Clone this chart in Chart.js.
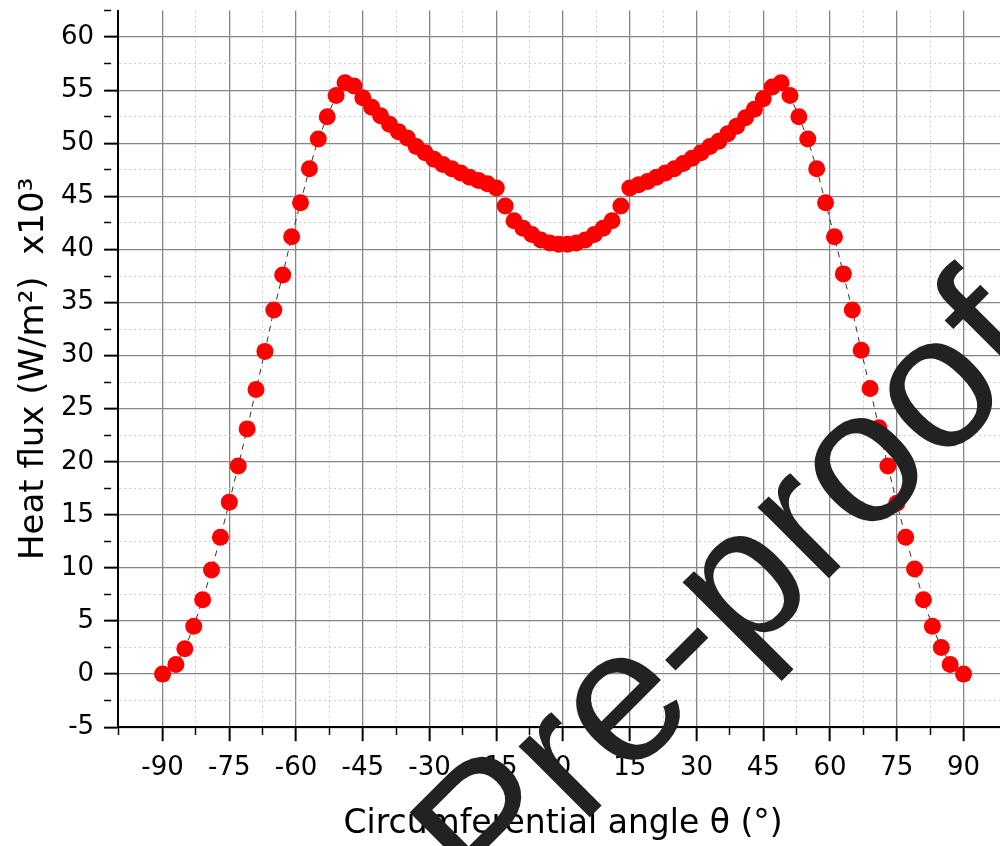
<!DOCTYPE html>
<html>
<head>
<meta charset="utf-8">
<script src="https://cdn.jsdelivr.net/npm/chart.js@4.4.1/dist/chart.umd.min.js"></script>
<style>
  html, body { margin: 0; padding: 0; background: #fff; overflow: hidden; }
  #wrap { width: 1019px; height: 862px; margin-top: -15px; }
</style>
</head>
<body>
<div id="wrap"><canvas id="flux" width="1019" height="862"></canvas></div>
<script>
// ── datos ───────────────────────────────
const angles = [
  -90, -87, -85, -83, -81, -79, -77, -75, -73, -71, -69, -67, -65, -63, -61, -59,
  -57, -55, -53, -51, -49, -47, -45, -43, -41, -39, -37, -35, -33, -31, -29, -27,
  -25, -23, -21, -19, -17, -15, -13, -11, -9, -7, -5, -3, -1,
  1, 3, 5, 7, 9, 11, 13, 15, 17, 19, 21, 23, 25, 27, 29, 31,
  33, 35, 37, 39, 41, 43, 45, 47, 49, 51, 53, 55, 57, 59, 61, 63,
  65, 67, 69, 71, 73, 75, 77, 79, 81, 83, 85, 87, 90
];
const heatFlux = [
  0.0, 0.9, 2.4, 4.5, 7.0, 9.8, 12.9, 16.2, 19.6, 23.1, 26.8, 30.4, 34.3, 37.6, 41.2, 44.4,
  47.6, 50.4, 52.5, 54.5, 55.7, 55.4, 54.3, 53.4, 52.6, 51.8, 51.1, 50.5, 49.7, 49.1, 48.5, 48.0,
  47.6, 47.2, 46.8, 46.5, 46.2, 45.8, 44.1, 42.7, 42.0, 41.4, 40.9, 40.6, 40.5,
  40.5, 40.6, 40.9, 41.4, 42.0, 42.7, 44.1, 45.8, 46.1, 46.4, 46.8, 47.2, 47.6, 48.1, 48.6, 49.1,
  49.7, 50.2, 50.9, 51.6, 52.4, 53.2, 54.2, 55.3, 55.7, 54.5, 52.5, 50.4, 47.6, 44.4, 41.2, 37.7,
  34.3, 30.5, 26.9, 23.2, 19.6, 16.1, 12.9, 9.9, 7.0, 4.5, 2.5, 0.9, 0.0
];

const xMin = -100, xMax = 100, xStep = 7.5, xMajor = 15;
const yMin = -5, yMax = 62.5, yStep = 2.5, yMajor = 5;

const xTitle = 'Circumferential angle θ (°)';
const yTitle = 'Heat flux (W/m²)  x10³';
const watermark = 'Pre-proof';

const esMayor = (v, paso) => Math.abs(v / paso - Math.round(v / paso)) < 1e-6;

// ── marca de agua ───────────────────────
const marcaAgua = {
  id: 'marcaAgua',
  afterDraw(chart) {
    const c = chart.ctx;
    c.save();
    c.translate(491, 931);
    c.rotate(-Math.PI / 4);
    c.font = '190px "Liberation Sans"';
    c.fillStyle = '#222';
    c.textBaseline = 'alphabetic';
    c.fillText(watermark, 0, 0);
    c.restore();
  }
};

function ejeOpts(mayor, maxVal) {
  const v = c => (c.tick ? c.tick.value : null);
  const mayorEn = c => v(c) !== null && esMayor(v(c), mayor);
  return {
    grid: {
      color: c => {
        const t = v(c);
        if (t === null) return '#808080';
        if (t === maxVal) return 'rgba(0,0,0,0)';
        return esMayor(t, mayor) ? '#858585' : '#cccccc';
      },
      lineWidth: c => (mayorEn(c) ? 1.3 : 1),
      tickColor: '#000',
      tickWidth: c => (mayorEn(c) ? 2 : 1.5),
      tickLength: 14,
      tickBorderDash: c => (mayorEn(c) ? [] : [7, 100]),
    },
    border: {
      display: true, color: '#000', width: 2,
      dash: c => (v(c) !== null && !mayorEn(c) ? [2, 3] : []),
    },
  };
}

const ejeX = ejeOpts(xMajor, null);
const ejeY = ejeOpts(yMajor, yMax);

Chart.defaults.font.family = '"DejaVu Sans"';
Chart.defaults.color = '#000';

new Chart(document.getElementById('flux').getContext('2d'), {
  type: 'scatter',
  data: {
    datasets: [{
      label: 'Heat flux',
      data: angles.map((a, i) => ({ x: a, y: heatFlux[i] })),
      showLine: true,
      borderColor: '#333', borderWidth: 1, borderDash: [6, 5],
      tension: 0,
      pointRadius: 8.5, pointHoverRadius: 8.5,
      pointBackgroundColor: '#ff0000', pointBorderColor: '#ff0000', pointBorderWidth: 0,
    }]
  },
  options: {
    responsive: false, animation: false, devicePixelRatio: 1,
    layout: { padding: { left: 15, top: 0, right: 4, bottom: 3 } },
    plugins: { legend: { display: false }, tooltip: { enabled: false } },
    scales: {
      x: {
        type: 'linear', min: xMin, max: xMax,
        ...ejeX,
        ticks: {
          stepSize: xStep, autoSkip: false, maxRotation: 0, padding: 11,
          font: { size: 26 },
          callback: v => (esMayor(v, xMajor) ? String(v) : ''),
        },
        title: { display: true, text: xTitle, font: { size: 33 }, padding: { top: 10, bottom: 0 } },
      },
      y: {
        type: 'linear', min: yMin, max: yMax,
        ...ejeY,
        ticks: {
          stepSize: yStep, autoSkip: false, padding: 10,
          font: { size: 26 },
          callback: v => (esMayor(v, yMajor) ? String(v) : ''),
        },
        title: { display: true, text: yTitle, font: { size: 34, lineHeight: 1.0 }, padding: { top: 2, bottom: 0 } },
      }
    }
  },
  plugins: [marcaAgua]
});
</script>
</body>
</html>
